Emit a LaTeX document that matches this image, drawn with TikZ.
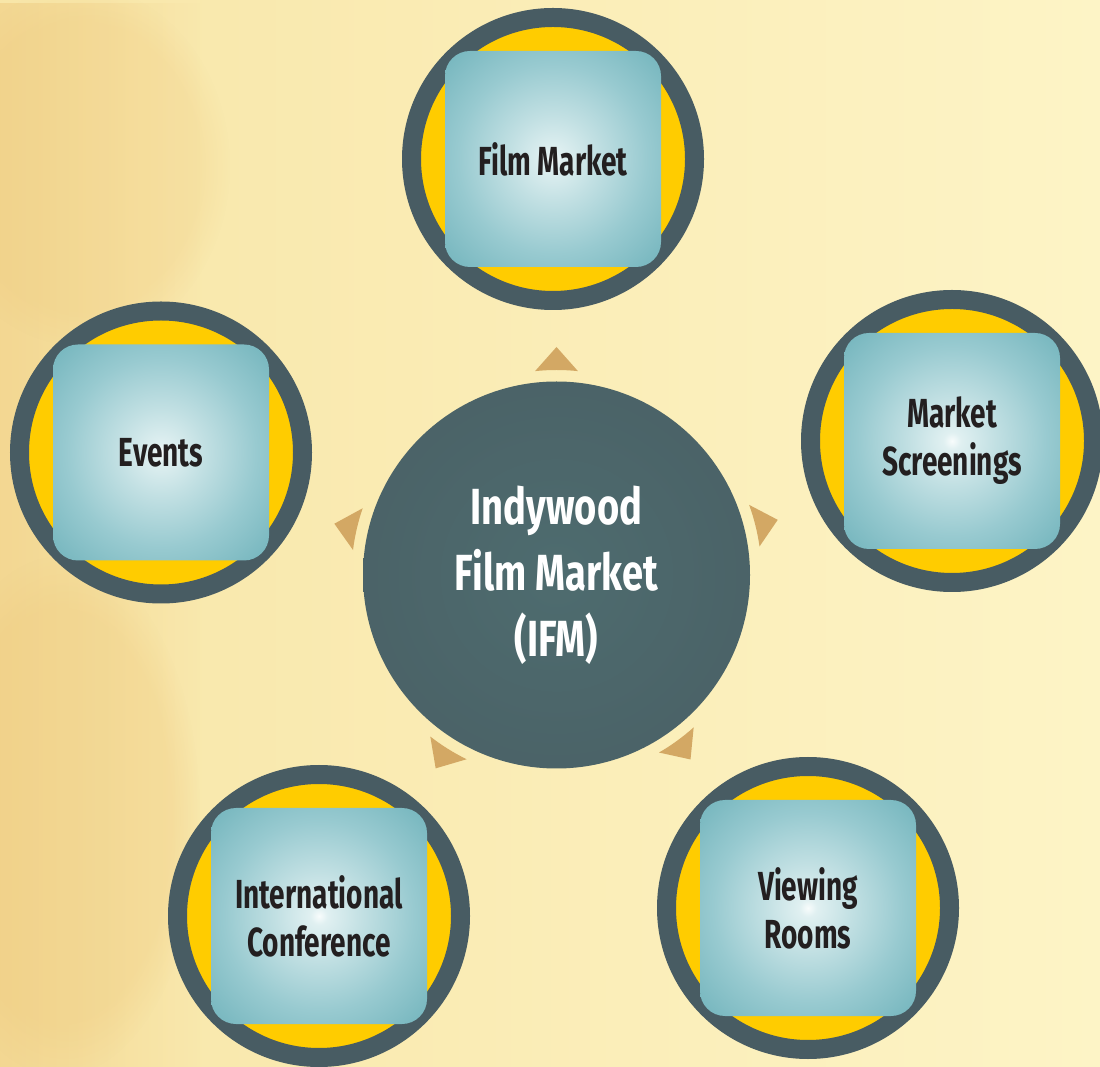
\documentclass[tikz,border=0pt]{standalone}
\usepackage{fontspec}
\usetikzlibrary{calc,fadings}
\newfontfamily\satfont[FakeStretch=0.69]{Fira Sans}
\newfontfamily\hubfont[FakeStretch=0.75]{Fira Sans}
\definecolor{ringc}{HTML}{485C63}
\definecolor{yel}{HTML}{FFCC00}
\definecolor{txtc}{HTML}{231F20}
\definecolor{tric}{HTML}{D3A864}
\definecolor{bgleft}{HTML}{F8E6A8}
\definecolor{bgright}{HTML}{FDF4C6}
\definecolor{stain}{HTML}{EDC577}
\definecolor{sqa}{HTML}{F8FCFC}
\definecolor{sqb}{HTML}{E0F0F1}
\definecolor{sqc}{HTML}{C2E0E3}
\definecolor{sqd}{HTML}{98CAD0}
\definecolor{sqe}{HTML}{74B5BD}
\definecolor{sqf}{HTML}{5BA8B2}
\definecolor{huba}{HTML}{4E6C6F}
\definecolor{hubb}{HTML}{4A6166}
\definecolor{hubc}{HTML}{465A61}
\pgfdeclareradialshading{sqsh}{\pgfpoint{0bp}{0bp}}{color(0bp)=(sqa); color(2bp)=(sqb); color(10bp)=(sqc); color(22bp)=(sqd); color(35bp)=(sqe); color(50bp)=(sqf)}
\pgfdeclareradialshading{hubsh}{\pgfpoint{0bp}{0bp}}{color(0bp)=(huba); color(30bp)=(hubb); color(50bp)=(hubc)}
\tikzset{
  sat/.style={circle, draw=ringc, line width=19pt, fill=yel, minimum size=283pt, inner sep=0pt},
  sqbox/.style={rectangle, rounded corners=25pt, minimum size=216pt, inner sep=0pt,
    shade, shading=sqsh, text=txtc, align=center,
    font=\satfont\bfseries\fontsize{40.6}{48}\selectfont},
  hubnode/.style={circle, minimum size=387pt, inner sep=0pt, shade, shading=hubsh,
    text=white, align=center, font=\hubfont\bfseries\fontsize{50.8}{66}\selectfont},
  tri/.style={fill=tric}
}
\begin{document}
\begin{tikzpicture}[x=1pt,y=1pt]
\useasboundingbox (0,0) rectangle (1100,1066);
% background
\shade[left color=bgleft, right color=bgright] (0,0) rectangle (1100,1066);
\fill[stain, opacity=0.45, path fading=east] (0,0) rectangle (200,1066);
\fill[stain, opacity=0.25, path fading=circle with fuzzy edge 20 percent] (60,250) ellipse (140pt and 260pt);
\fill[stain, opacity=0.2, path fading=circle with fuzzy edge 20 percent] (80,900) ellipse (150pt and 180pt);

% hub
\node[hubnode] (hub) at (556.5,491) {Indywood\\Film Market\\(IFM)};

% satellites
\node[sat] (fm) at (553,907) {};
\node[sqbox] (fmq) at (fm.center) {Film Market};
\node[sat] (ms) at (952,625) {};
\node[sqbox] (msq) at (ms.center) {Market\\Screenings};
\node[sat] (ev) at (161,613.5) {};
\node[sqbox] (evq) at (ev.center) {Events};
\node[sat] (ic) at (319,150) {};
\node[sqbox] (icq) at (ic.center) {International\\Conference};
\node[sat] (vr) at (808,158) {};
\node[sqbox] (vrq) at (vr.center) {Viewing\\Rooms};

% arrow triangles
\foreach \a in {90,14,167,238,306}{
  \fill[tri] ($(hub.center)+(\a-6:205pt)$) arc[start angle=\a-6, end angle=\a+6, radius=205pt]
    -- ($(hub.center)+(\a:228pt)$) -- cycle;
}
\end{tikzpicture}
\end{document}
